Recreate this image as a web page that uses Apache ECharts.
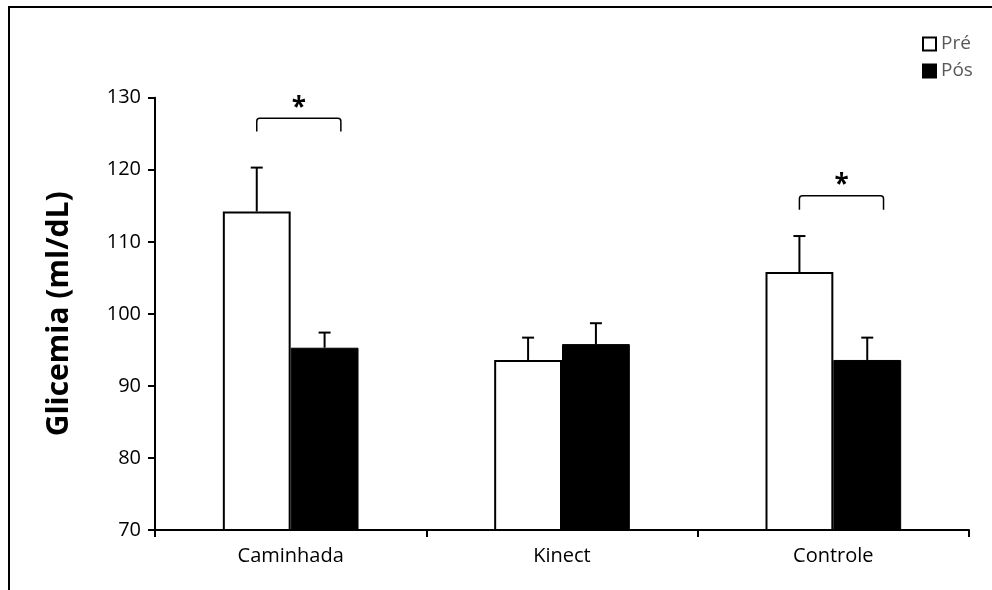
<!DOCTYPE html>
<html>
<head>
<meta charset="utf-8">
<script src="https://cdn.jsdelivr.net/npm/echarts@6/dist/echarts.min.js"></script>
<style>html,body{margin:0;padding:0;background:#fff}#c{width:992px;height:590px}</style>
</head>
<body>
<div id="c"></div>
<script>
const categories = ['Caminhada', 'Kinect', 'Controle'];
const seriesNames = ['Pré', 'Pós'];
const preValues = [114.2, 93.6, 105.8];
const preErrors = [6.1, 3.1, 5.0];
const posValues = [95.3, 95.8, 93.6];
const posErrors = [2.1, 2.9, 3.1];
const yTicks = [70, 80, 90, 100, 110, 120, 130];
const yTitle = 'Glicemia (ml/dL)';
// significance brackets: [category index, bracket top, bracket bottom, star value]
const brackets = [[0, 127.15, 125.3, 129.1], [2, 116.4, 114.45, 118.4]];
const starLabel = '*';

const FONT = '"Open Sans", "Liberation Sans", sans-serif';
const chart = echarts.init(document.getElementById('c'), null, {renderer: 'canvas'});

function errData(vals, errs) {
  return vals.map((v, i) => [i, v, v + errs[i]]);
}
function errRender(offsetFrac) {
  return function (params, api) {
    const band = api.size([1, 0])[0];
    const x = api.coord([api.value(0), 0])[0] + offsetFrac * band;
    const yLow = api.coord([0, api.value(1)])[1];
    const yHigh = api.coord([0, api.value(2)])[1];
    const cap = 6;
    const st = {stroke: '#000', lineWidth: 2, fill: null};
    return {
      type: 'group',
      children: [
        {type: 'line', shape: {x1: x, y1: yLow, x2: x, y2: yHigh}, style: st},
        {type: 'line', shape: {x1: x - cap, y1: yHigh, x2: x + cap, y2: yHigh}, style: st}
      ]
    };
  };
}

const option = {
  animation: false,
  backgroundColor: '#fff',
  graphic: [{
    type: 'rect', silent: true, z: -1,
    shape: {x: 9, y: 7, width: 1100, height: 700},
    style: {fill: null, stroke: '#000', lineWidth: 2}
  }],
  legend: {
    orient: 'vertical', left: 917, top: 29,
    itemWidth: 13, itemHeight: 13, itemGap: 7,
    icon: 'rect',
    textStyle: {color: '#595959', fontSize: 19, fontFamily: FONT, lineHeight: 20},
    data: seriesNames
  },
  grid: {left: 155, right: 23, top: 97.7, bottom: 60, containLabel: false},
  xAxis: {
    type: 'category', data: categories,
    axisLine: {lineStyle: {color: '#000', width: 2}},
    axisTick: {show: true, length: 7, alignWithLabel: false, lineStyle: {color: '#000', width: 2}},
    axisLabel: {color: '#000', fontSize: 20, fontFamily: FONT, margin: 16}
  },
  yAxis: {
    type: 'value', min: yTicks[0], max: yTicks[yTicks.length - 1], interval: 10,
    name: yTitle, nameLocation: 'middle', nameRotate: 90, nameGap: 81,
    nameTextStyle: {color: '#000', fontSize: 30, fontWeight: 'bold', fontFamily: FONT},
    axisLine: {show: true, lineStyle: {color: '#000', width: 2}},
    axisTick: {show: true, length: 7, lineStyle: {color: '#000', width: 2}},
    axisLabel: {color: '#000', fontSize: 20, fontFamily: FONT, margin: 14},
    splitLine: {show: false}
  },
  series: [
    {
      name: seriesNames[0], type: 'bar', data: preValues,
      barWidth: '25%', barGap: '0%',
      itemStyle: {color: '#fff', borderColor: '#000', borderWidth: 2}
    },
    {
      name: seriesNames[1], type: 'bar', data: posValues,
      barWidth: '25%', barGap: '0%',
      itemStyle: {color: '#000', borderColor: '#000', borderWidth: 1}
    },
    {
      type: 'custom', name: 'errPre', data: errData(preValues, preErrors),
      renderItem: errRender(-0.125), z: 3, silent: true
    },
    {
      type: 'custom', name: 'errPos', data: errData(posValues, posErrors),
      renderItem: errRender(0.125), z: 3, silent: true
    },
    {
      type: 'custom', name: 'sig', data: brackets, z: 4, silent: true,
      renderItem: function (params, api) {
        const band = api.size([1, 0])[0];
        const cx = api.coord([api.value(0), 0])[0];
        const x1 = cx - 0.125 * band;
        const x2 = x1 + 0.31 * band;
        const yTop = api.coord([0, api.value(1)])[1];
        const yBot = api.coord([0, api.value(2)])[1];
        const yStar = api.coord([0, api.value(3)])[1];
        const r = 3;
        return {
          type: 'group',
          children: [
            {type: 'path', shape: {pathData:
              'M' + x1 + ' ' + yBot + ' L' + x1 + ' ' + (yTop + r) +
              ' Q' + x1 + ' ' + yTop + ' ' + (x1 + r) + ' ' + yTop +
              ' L' + (x2 - r) + ' ' + yTop +
              ' Q' + x2 + ' ' + yTop + ' ' + x2 + ' ' + (yTop + r) +
              ' L' + x2 + ' ' + yBot},
              style: {stroke: '#000', lineWidth: 1.5, fill: null}},
            {type: 'text', style: {text: starLabel, x: (x1 + x2) / 2, y: yStar + 4,
              align: 'center', verticalAlign: 'middle', fontSize: 26, fontWeight: 'bold', fontFamily: FONT, fill: '#000'}}
          ]
        };
      }
    }
  ]
};
chart.setOption(option);
</script>
</body>
</html>
